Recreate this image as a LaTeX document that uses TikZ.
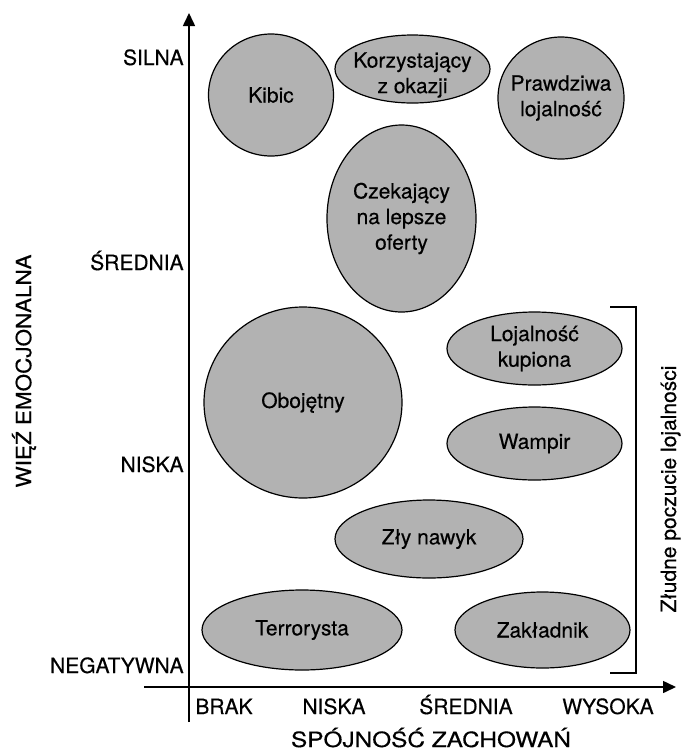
\documentclass[tikz,border=0pt]{standalone}
\usepackage{fontspec}
\setmainfont{TeX Gyre Heros}[FakeBold=0.4]
\usetikzlibrary{arrows.meta}
\tikzset{
	% ---- default
	every node/.style={font=\fontsize{10.5}{12.8}\selectfont, inner sep=0pt},
	% ---- custom
	axis/.style={line width=0.8pt, -{Triangle[length=6.5pt, width=6pt]}},
	blob/.style={draw=black, fill=black!30, line width=0.6pt},
	blob label/.style={align=center},
	level/.style={anchor=base east},
	grade/.style={anchor=base},
	bracket/.style={line width=0.6pt},
}

\begin{document}
\begin{tikzpicture}[x=0.5pt, y=-0.5pt]

% frame %{{{2

	\useasboundingbox (0,0) rectangle (681,751);

% coordinates %{{{2

	\coordinate (O) at (189,687);
	\coordinate (Ytop) at (189,13);
	\coordinate (Ybot) at (189,722);
	\coordinate (Xleft) at (144,687);
	\coordinate (Xright) at (676,687);

	\coordinate (Kc) at (271,95);
	\coordinate (KOc) at (412.5,69);
	\coordinate (Pc) at (561,98);
	\coordinate (Cc) at (401.5,218.5);
	\coordinate (Oc) at (303,402.5);
	\coordinate (Lc) at (534.5,348.5);
	\coordinate (Wc) at (534.5,443.5);
	\coordinate (Zc) at (429,539);
	\coordinate (Tc) at (302,630);
	\coordinate (ZAc) at (542.5,630);

	\coordinate (B1) at (610,307);
	\coordinate (B2) at (636,307);
	\coordinate (B3) at (636,673);
	\coordinate (B4) at (610,673);

% axes %{{{2

	\draw[axis] (Ybot) -- (Ytop);
	\draw[axis] (Xleft) -- (Xright);

% ellipses %{{{2

	\filldraw[blob] (Kc) ellipse [x radius=62.5, y radius=61];
	\filldraw[blob] (KOc) ellipse [x radius=77.5, y radius=34];
	\filldraw[blob] (Pc) ellipse [x radius=63, y radius=61];
	\filldraw[blob] (Cc) ellipse [x radius=74.5, y radius=93.5];
	\filldraw[blob] (Oc) ellipse [x radius=99, y radius=95.5];
	\filldraw[blob] (Lc) ellipse [x radius=87.5, y radius=36.5];
	\filldraw[blob] (Wc) ellipse [x radius=87.5, y radius=36.5];
	\filldraw[blob] (Zc) ellipse [x radius=94, y radius=39];
	\filldraw[blob] (Tc) ellipse [x radius=100, y radius=40];
	\filldraw[blob] (ZAc) ellipse [x radius=87.5, y radius=38];

% bracket %{{{2

	\draw[bracket] (B1) -- (B2) -- (B3) -- (B4);

% ellipses labels %{{{2

	\node[blob label] (kibic) at (Kc) {Kibic};
	\node[blob label, yshift=-3pt] (okazja) at (KOc) {Korzystający\\z okazji};
	\node[blob label] (prawdziwa) at (Pc) {Prawdziwa\\lojalność};
	\node[blob label] (czekajacy) at (Cc) {Czekający\\na lepsze\\oferty};
	\node[blob label] (obojetny) at (Oc) {Obojętny};
	\node[blob label] (kupiona) at (Lc) {Lojalność\\kupiona};
	\node[blob label] (wampir) at (Wc) {Wampir};
	\node[blob label] (nawyk) at (Zc) {Zły nawyk};
	\node[blob label] (terrorysta) at (Tc) {Terrorysta};
	\node[blob label] (zakladnik) at (ZAc) {Zakładnik};

% axes labels %{{{2

	\node[level] (silna) at (184,65) {SILNA};
	\node[level] (ysrednia) at (184,270) {ŚREDNIA};
	\node[level] (yniska) at (184,472) {NISKA};
	\node[level] (negatywna) at (184,673) {NEGATYWNA};

	\node[grade] (brak) at (224,714) {BRAK};
	\node[grade] (xniska) at (334,714) {NISKA};
	\node[grade] (xsrednia) at (466,714) {ŚREDNIA};
	\node[grade] (wysoka) at (608,714) {WYSOKA};

	\node[anchor=base] (xtitle) at (431,747) {\scalebox{1.16}[1]{SPÓJNOŚĆ ZACHOWAŃ}};
	\node[rotate=90] (ytitle) at (24,371) {\scalebox{1.07}[1]{WIĘŹ EMOCJONALNA}};
	\node[rotate=90, anchor=base] (zludne) at (676,489) {Złudne poczucie lojalności};

% closing %{{{2

\end{tikzpicture}
\end{document}
